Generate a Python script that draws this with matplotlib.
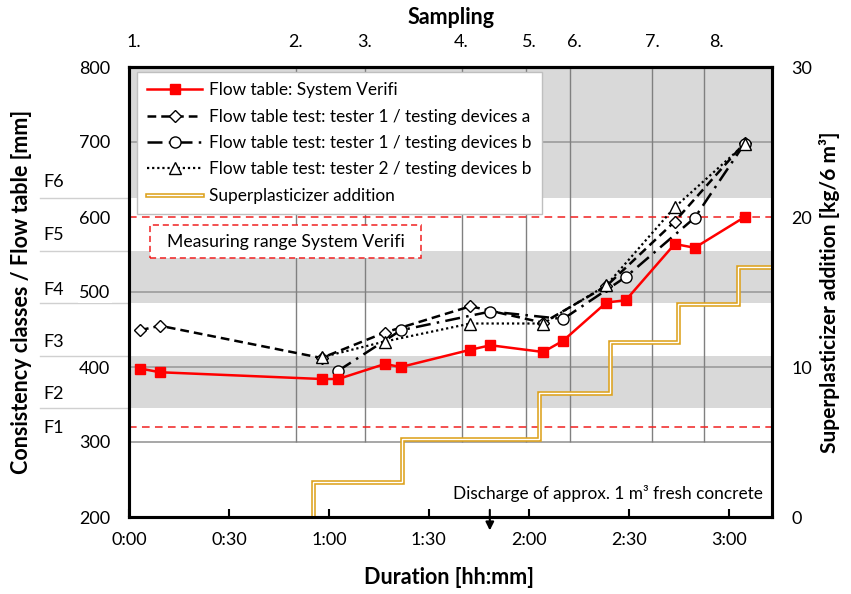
import matplotlib.pyplot as plt
import matplotlib.transforms as mtransforms
from matplotlib.patches import Rectangle
from matplotlib.legend_handler import HandlerTuple

plt.rcParams['font.family'] = ['Lato', 'DejaVu Sans']

# duration in minutes, flow table spread in mm
t_verifi = [3.3, 9.3, 57.8, 62.8, 76.8, 81.6, 102.5, 108.5, 124.3, 130.3, 143.3, 149.1, 163.8, 169.8, 184.8]
flow_verifi = [398, 393, 384, 384, 404, 400, 423, 429, 420, 435, 486, 489, 564, 559, 600]

t_t1a = [3.3, 9.3, 57.8, 76.8, 102.5, 124.3, 143.3, 163.8, 184.8]
flow_t1a = [449, 455, 412, 446, 481, 459, 508, 594, 699]

t_t1b = [62.8, 81.6, 108.5, 130.3, 149.1, 169.8, 184.8]
flow_t1b = [395, 449, 474, 464, 520, 599, 698]

t_t2b = [57.8, 76.8, 102.5, 124.3, 143.3, 163.8, 184.8]
flow_t2b = [413, 434, 458, 458, 509, 613, 697]

# superplasticizer addition [kg/6 m3], cumulative steps
t_sp = [55.2, 55.2, 82.0, 123.0, 144.3, 164.7, 182.7, 196.0]
sp = [0, 2.33, 5.2, 8.27, 11.67, 14.2, 16.67, 16.67]

# sampling
sample_grid = [50.1, 70.8, 99.9, 119.1, 132.3, 156.9, 172.5]
sample_pos = [1.5, 50.1, 70.8, 99.6, 120.3, 133.8, 157.2, 176.4]
sample_labels = ['1.', '2.', '3.', '4.', '5.', '6.', '7.', '8.']

# consistency classes
class_bands = [(345, 415), (485, 555), (625, 800)]
class_bounds = [345, 415, 485, 555, 625]
class_names = ['F1', 'F2', 'F3', 'F4', 'F5', 'F6']
class_label_y = [319, 364, 433, 503, 576, 647]

measuring_range = [320, 600]

W, H = 851, 594
fig = plt.figure(figsize=(W / 100, H / 100), dpi=100)
ax = fig.add_axes([129 / W, 77 / H, 643 / W, 450 / H])
ax.set_xlim(0, 193)
ax.set_ylim(200, 800)

for lo, hi in class_bands:
    ax.axhspan(lo, hi, color='#D9D9D9', lw=0, zorder=0)
ax.hlines([300, 400, 500, 700], 0, 193, colors='#A0A0A0', lw=1.3, zorder=0.8)
ax.vlines(sample_grid, 300, 800, colors='#808080', lw=1.0, zorder=0.8)
for v in measuring_range:
    ax.axhline(v, color='#F02020', lw=1.1, dashes=(5, 3.5), zorder=0.9)

# class boundary lines and labels on the left
trans = mtransforms.blended_transform_factory(fig.transFigure, ax.transData)
for b in class_bounds:
    ax.plot([40 / W, 129 / W], [b, b], color='#D0D0D0', lw=1, transform=trans,
            clip_on=False, zorder=0.5)
for name, yy in zip(class_names, class_label_y):
    fig.text(43 / W, yy, name, transform=trans, fontsize=13, va='center', ha='left')

h1, = ax.plot(t_verifi, flow_verifi, color='#FF0000', lw=1.8, marker='s', ms=7.5,
              mfc='#FF0000', mec='#FF0000', zorder=6)
h2, = ax.plot(t_t1a, flow_t1a, color='black', lw=1.8, dashes=(3.5, 2), marker='D', ms=6.5,
              mfc='white', mec='black', mew=1, zorder=3)
h3, = ax.plot(t_t1b, flow_t1b, color='black', lw=1.8, dashes=(6, 2.5, 1, 2.5), marker='o', ms=8,
              mfc='white', mec='black', mew=1, zorder=4)
h4, = ax.plot(t_t2b, flow_t2b, color='black', lw=1.6, dashes=(1, 1.3), marker='^', ms=8,
              mfc='white', mec='black', mew=1, zorder=5)

# measuring range box
ax.add_patch(Rectangle((6.3, 545), 81.3, 44, fc='white', ec='#F02020', lw=1.1,
                       ls=(0, (4, 2.5)), zorder=7))
ax.text(47, 566, 'Measuring range System Verifi', ha='center', va='center',
        fontsize=12.7, zorder=8)

ax.text(190.2, 232, 'Discharge of approx. 1 m³ fresh concrete', ha='right', va='center',
        fontsize=12.4, zorder=8)
ax.annotate('', xy=(108.3, -0.036), xytext=(108.3, 0.022), xycoords=('data', 'axes fraction'),
            arrowprops=dict(arrowstyle='-|>', color='black', lw=1.5, mutation_scale=12),
            annotation_clip=False)

xt = list(range(0, 181, 30))
ax.set_xticks(xt)
ax.set_xticklabels([f'{m // 60}:{m % 60:02d}' for m in xt])
ax.tick_params(axis='x', direction='in', length=6, width=1.5, pad=10.5, labelsize=13)
ax.set_yticks([200, 300, 400, 500, 600, 700, 800])
ax.tick_params(axis='y', length=0, pad=13.5, labelsize=13)
for lab in ax.get_yticklabels():
    lab.set_bbox(dict(fc='white', ec='none', pad=1))

ax2 = ax.twinx()
ax2.set_ylim(0, 30)
ax2.set_yticks([0, 10, 20, 30])
ax2.tick_params(axis='y', length=0, pad=14, labelsize=13)
g1, = ax2.plot(t_sp, sp, color='#DDA21E', lw=3.3, drawstyle='steps-post',
               solid_joinstyle='miter', zorder=2)
g2, = ax2.plot(t_sp, sp, color='white', lw=1.0, drawstyle='steps-post',
               solid_joinstyle='miter', zorder=2.1)

top = ax.secondary_xaxis('top')
top.set_xticks(sample_pos)
top.set_xticklabels(sample_labels)
top.tick_params(length=0, pad=12, labelsize=13)

for a in (ax, ax2):
    for s in a.spines.values():
        s.set_linewidth(2.2)
        s.set_color('black')
top.spines['top'].set_linewidth(2.2)

fig.text(22 / W, 1 - 292 / H, 'Consistency classes / Flow table [mm]', rotation=90,
         ha='center', va='center', fontsize=15.5, fontweight='bold')
fig.text(830 / W, 1 - 292 / H, 'Superplasticizer addition [kg/6 m³]', rotation=90,
         ha='center', va='center', fontsize=15, fontweight='bold')
fig.text(449 / W, 1 - 578 / H, 'Duration [hh:mm]', ha='center', va='center',
         fontsize=15.5, fontweight='bold')
fig.text(451 / W, 1 - 17 / H, 'Sampling', ha='center', va='center',
         fontsize=15.5, fontweight='bold')

leg = ax2.legend(handles=[h1, h2, h3, h4, (g1, g2)],
                 labels=['Flow table: System Verifi',
                         'Flow table test: tester 1 / testing devices a',
                         'Flow table test: tester 1 / testing devices b',
                         'Flow table test: tester 2 / testing devices b',
                         'Superplasticizer addition'],
                 handler_map={tuple: HandlerTuple(ndivide=1)},
                 loc='upper left', bbox_to_anchor=(137 / W, 1 - 72 / H),
                 bbox_transform=fig.transFigure, borderaxespad=0,
                 fontsize=12.4, handlelength=3.2, handletextpad=0.4,
                 labelspacing=0.6, borderpad=0.6, fancybox=False,
                 framealpha=1, edgecolor='#BFBFBF')
leg.get_frame().set_linewidth(1.0)

fig.savefig('out.png', dpi=100)
